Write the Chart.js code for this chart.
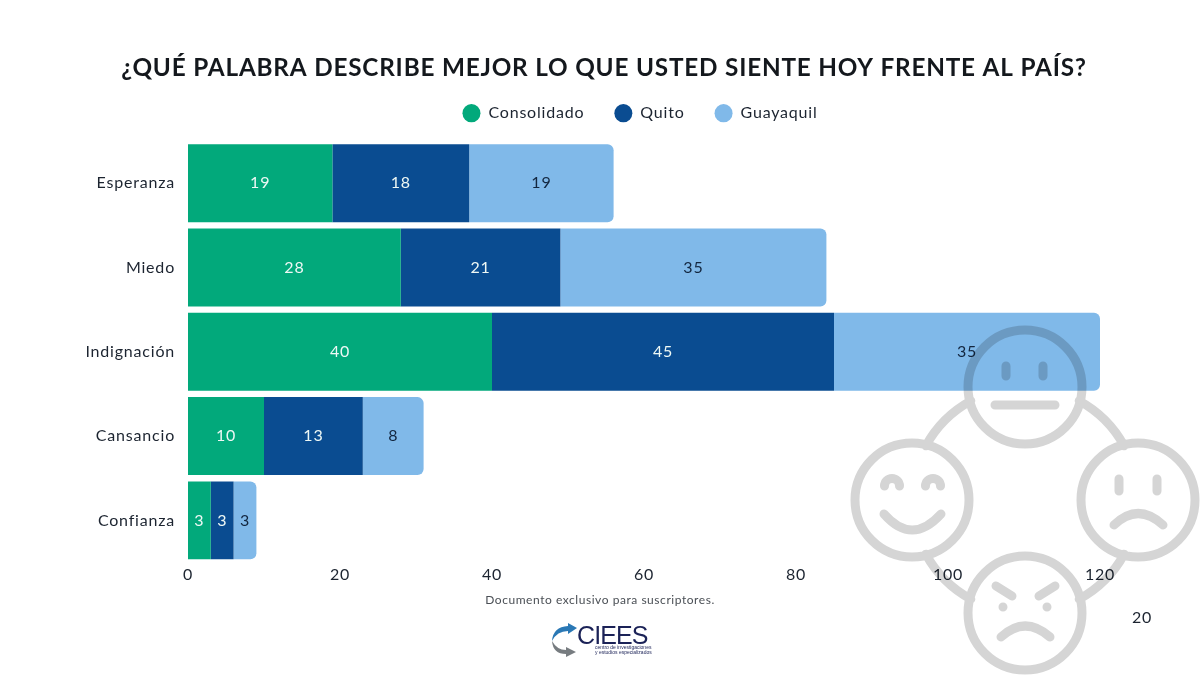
<!DOCTYPE html>
<html lang="es"><head><meta charset="utf-8">
<style>html,body{margin:0;padding:0;background:#fff;width:1200px;height:675px;overflow:hidden}canvas{display:block}</style>
<script src="https://cdn.jsdelivr.net/npm/chart.js@4"></script></head>
<body><canvas id="c" width="1200" height="675"></canvas>
<script>
const categories=["Esperanza","Miedo","Indignación","Cansancio","Confianza"];
const consolidado=[19,28,40,10,3];
const quito=[18,21,45,13,3];
const guayaquil=[19,35,35,8,3];
const xTicks=[0,20,40,60,80,100,120];
const titleText="¿QUÉ PALABRA DESCRIBE MEJOR LO QUE USTED SIENTE HOY FRENTE AL PAÍS?";
const footerText="Documento exclusivo para suscriptores.";
const pageNumber="20";
const GREEN="#02A97B",NAVY="#0A4C91",LIGHT="#80B9E9",INK="#1c2430";
const FONT="Lato, 'Noto Sans', sans-serif";
const SPACING="0.8px";

const spacing={id:'spacing',
  beforeUpdate(ch){ch.ctx.letterSpacing=SPACING;},
  beforeDraw(ch){ch.ctx.letterSpacing=SPACING;},
  afterLayout(ch){
    ch.titleBlock.right=1208;
    ch.legend.right=1280;
    ch.legend.top-=10;
  }};

const barLabels={id:'barLabels',afterDatasetsDraw(ch){
  const x=ch.ctx;x.save();x.font="16px "+FONT;x.textAlign='center';x.textBaseline='middle';
  ch.data.datasets.forEach((d,i)=>{ch.getDatasetMeta(i).data.forEach((el,j)=>{
    x.fillStyle=i===2?"#12263f":"#eef8f5";
    x.fillText(String(d.data[j]),(el.base+el.x)/2,el.y);
  });});x.restore();}};

const faces={id:'faces',afterDatasetsDraw(ch){
  const x=ch.ctx;x.save();x.globalCompositeOperation='multiply';
  x.strokeStyle="#d5d5d5";x.fillStyle="#d5d5d5";x.lineCap='round';x.lineWidth=9;
  const cx=1025,cy=500,R=113,p=new Path2D();
  const circ=(a,b,r)=>{p.moveTo(a+r,b);p.arc(a,b,r,0,Math.PI*2);};
  circ(1025,387,57);circ(912,500,57);circ(1138,500,57);circ(1025,613,57);
  [0,1,2,3].forEach(q=>{const s=q*Math.PI/2+0.5,e=q*Math.PI/2+Math.PI/2-0.5;
    p.moveTo(cx+R*Math.cos(s),cy+R*Math.sin(s));p.arc(cx,cy,R,s,e);});
  const seg=(a,b,c,d)=>{p.moveTo(a,b);p.lineTo(c,d);};
  seg(1006,366,1006,376);seg(1043,366,1043,376);seg(995,405,1055,405);
  p.moveTo(884.5,486);p.arc(892,486,7.5,Math.PI,0);
  p.moveTo(925.5,486);p.arc(933,486,7.5,Math.PI,0);
  p.moveTo(884,514);p.quadraticCurveTo(912,546,941,514);
  seg(1119,479,1119,491);seg(1157,479,1157,491);
  p.moveTo(1114,525);p.quadraticCurveTo(1138,502,1163,525);
  seg(996,586,1012,596);seg(1055,586,1039,596);
  seg(1003,607,1003,607.1);seg(1047,607,1047,607.1);
  p.moveTo(1001,637);p.quadraticCurveTo(1025,615,1050,637);
  x.stroke(p);x.restore();}};

const extras={id:'extras',afterDraw(ch){
  const x=ch.ctx;x.save();
  x.textBaseline='middle';x.textAlign='center';
  x.letterSpacing="0.55px";
  x.fillStyle="#4a4f55";x.font="12px "+FONT;x.fillText(footerText,600,600);
  x.letterSpacing=SPACING;
  x.fillStyle=INK;x.font="16px "+FONT;x.fillText(pageNumber,1142,618);
  // logo
  x.letterSpacing="0px";
  x.fillStyle="#2a78b5";x.beginPath();x.moveTo(552,641);x.quadraticCurveTo(553,627,568,626);
  x.lineTo(568,623);x.lineTo(577,628);x.lineTo(568,634);x.lineTo(568,631);x.quadraticCurveTo(557,631,552,641);x.fill();
  x.fillStyle="#777c80";x.beginPath();x.moveTo(552,641);x.quadraticCurveTo(553,654,566,654);
  x.lineTo(566,657);x.lineTo(576,652);x.lineTo(566,647);x.lineTo(566,650);x.quadraticCurveTo(557,650,552,641);x.fill();
  x.textAlign='left';x.fillStyle="#1b2257";x.font="25px 'Liberation Sans',sans-serif";
  x.letterSpacing="-0.9px";x.fillText("CIEES",577,637);
  x.letterSpacing="0px";
  x.font="5px 'Liberation Sans',sans-serif";
  x.fillText("centro de investigaciones",595,648);x.fillText("y estudios especializados",595,653);
  x.restore();}};

const ds=(label,data,color,extra)=>Object.assign({label,data,backgroundColor:color,borderWidth:0,
  barPercentage:0.925,categoryPercentage:1,stack:'s'},extra||{});

new Chart(document.getElementById('c'),{type:'bar',
 data:{labels:categories,datasets:[
  ds("Consolidado",consolidado,GREEN),
  ds("Quito",quito,NAVY),
  ds("Guayaquil",guayaquil,LIGHT,{borderRadius:{topLeft:0,bottomLeft:0,topRight:6,bottomRight:6},borderSkipped:false})
 ]},
 plugins:[spacing,barLabels,faces,extras],
 options:{indexAxis:'y',responsive:false,animation:false,devicePixelRatio:1,
  layout:{padding:{left:0,right:100,top:54,bottom:88.5}},
  plugins:{
   title:{display:true,text:titleText,color:"#14181d",font:{family:FONT,size:24.3,weight:'bold'},padding:{top:0,bottom:2}},
   legend:{position:'top',align:'center',labels:{usePointStyle:true,pointStyle:'circle',boxHeight:13,pointStyleWidth:18,padding:30,color:INK,font:{family:FONT,size:16}}},
   tooltip:{enabled:false}},
  scales:{
   x:{stacked:true,min:0,max:120,afterBuildTicks(a){a.ticks=xTicks.map(v=>({value:v}));},afterFit(a){a.height=24;},
      grid:{display:false,drawTicks:false},border:{display:false},ticks:{color:INK,font:{family:FONT,size:16},padding:3,maxRotation:0}},
   y:{stacked:true,grid:{display:false,drawTicks:false},border:{display:false},afterFit(a){a.width=188;},
      ticks:{color:INK,font:{family:FONT,size:16},padding:13}}
  }}});
</script></body></html>
